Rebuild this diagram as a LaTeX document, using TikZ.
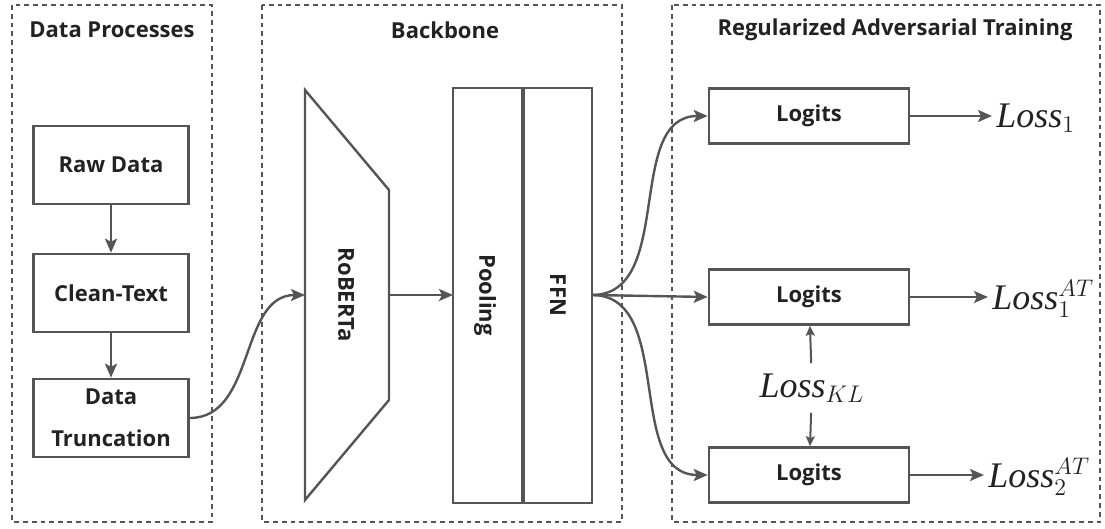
\documentclass[tikz,border=0pt]{standalone}
\usepackage[no-math]{fontspec}
\setmainfont{Open Sans}
\newfontfamily\lossfont{Liberation Serif}
\usetikzlibrary{arrows.meta}
\definecolor{linegray}{HTML}{555555}
\definecolor{textdark}{HTML}{222222}
\newcommand{\lossname}{{\lossfont\itshape Loss}}
\tikzset{
  frame/.style={linegray, line width=1.3pt, dash pattern=on 2.4pt off 2pt},
  blockline/.style={linegray, line width=1.2pt},
  proc/.style={draw=linegray, line width=1.3pt, minimum width=77.5pt, minimum height=39pt, inner sep=2pt},
  logit/.style={draw=linegray, line width=1.3pt, minimum width=100pt, minimum height=27.5pt},
  arr/.style={linegray, line width=1.2pt, -{Stealth[length=7pt,width=6pt,inset=1.5pt]}},
  arrsmall/.style={linegray, line width=1pt, -{Stealth[length=5pt,width=4.5pt,inset=1pt]}},
  loss/.style={font=\fontsize{18}{20}\selectfont, inner sep=2pt}
}
\begin{document}
\begin{tikzpicture}[x=0.5pt,y=-0.5pt, font=\fontsize{11}{13}\selectfont\bfseries, text=textdark]
\useasboundingbox (0,0) rectangle (1105,529);
% three dashed panels
\draw[frame] (12,5) rectangle (212,522);\draw[frame] (262,5) rectangle (622,522);\draw[frame] (672,5) rectangle (1100,522);
\node (ttlData) at (112,30) {Data Processes};\node (ttlBack) at (445,30) {Backbone};\node (ttlReg) at (895,30) {Regularized Adversarial Training};
% data processes
\node[proc] (raw) at (111,165) {Raw Data};
\node[proc] (clean) at (111,293) {Clean-Text};
\node[proc, align=center] (trunc) at (111,418) {Data\\[8pt]Truncation};
\draw[arr] (raw) -- (clean);\draw[arr] (clean) -- (trunc);
% backbone
\draw[blockline] (305,90) -- (389,190) -- (389,400) -- (305,500) -- cycle;
\node[rotate=-90] (roberta) at (346,295) {RoBERTa};
\coordinate (robIn) at (305,295);\coordinate (robOut) at (389,295);
\draw[blockline] (453,88) rectangle (592,503);\draw[linegray, line width=2.4pt] (523,88) -- (523,503);
\node[rotate=-90] (pool) at (485,295) {Pooling};\node[rotate=-90] (ffn) at (558,295) {FFN};
\coordinate (poolIn) at (453,295);\coordinate (ffnOut) at (592,295);
\draw[arr] (trunc.east) to[out=0, in=180] (robIn);
\draw[arr] (robOut) -- (poolIn);
% regularized adversarial training
\node[logit] (lgA) at (809,116) {Logits};\node[logit] (lgB) at (809,297) {Logits};\node[logit] (lgC) at (809,475) {Logits};
\draw[arr] (ffnOut) to[out=0, in=180] (lgA.west);\draw[arr] (ffnOut) -- (lgB.west);\draw[arr] (ffnOut) to[out=0, in=180] (lgC.west);
\node[loss, anchor=west] (lossA) at (992,118) {\lossname$_1$};
\node[loss, anchor=west] (lossB) at (988,299) {\lossname$_1^{AT}$};
\node[loss, anchor=west] (lossC) at (984,477) {\lossname$_2^{AT}$};
\draw[arr] (lgA.east) -- (lossA.west |- lgA.east);\draw[arr] (lgB.east) -- (lossB.west |- lgB.east);\draw[arr] (lgC.east) -- (lossC.west |- lgC.east);
\node[loss, inner sep=5pt] (lossKL) at (812,388) {\lossname$_{KL}$};
\draw[arrsmall] (lossKL) -- (lgB);\draw[arrsmall] (lossKL) -- (lgC);
\end{tikzpicture}
\end{document}
